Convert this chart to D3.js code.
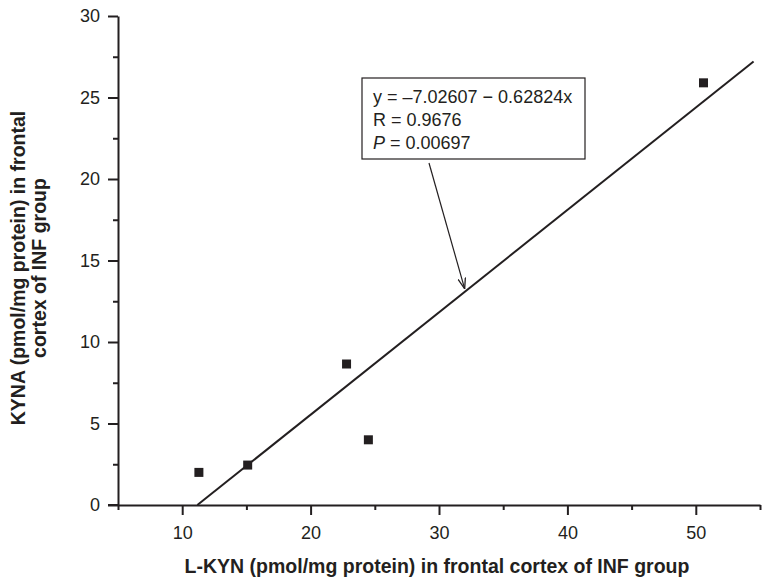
<!DOCTYPE html>
<html>
<head>
<meta charset="utf-8">
<script src="https://cdn.jsdelivr.net/npm/d3@7"></script>
<style>
  body { margin: 0; background: #fff; }
  svg { display: block; font-family: "Liberation Sans", Arial, sans-serif; }
</style>
</head>
<body>
<div id="graph"></div>
<script>
// scatter of KYNA vs L-KYN with a fitted line
var lkyn = [11.3, 15.1, 22.8, 24.5, 50.6];
var kyna = [2.0, 2.45, 8.65, 4.0, 25.9];
var fitIntercept = -7.02607;
var fitSlope = 0.62824;
var fitRange = [11.18, 54.5];
var xTicks = [10, 20, 30, 40, 50];
var xMinor = [5, 15, 25, 35, 45, 55];
var yTicks = [0, 5, 10, 15, 20, 25, 30];
var yMinor = [2.5, 7.5, 12.5, 17.5, 22.5, 27.5];
var noteLines = ["y = \u20137.02607 \u2212 0.62824x", "R = 0.9676", "P = 0.00697"];
var noteAt = 32; // x-value where the arrow touches the line

(function() {
  var graph = {
    width: 771,
    height: 586,
    ink: "#231f20"
  };

  var svg = d3.select("#graph").append("svg")
    .attr("width", graph.width)
    .attr("height", graph.height);

  var xScale = d3.scaleLinear().domain([5, 55]).range([118, 760]);
  var yScale = d3.scaleLinear().domain([0, 30]).range([505, 16]);

  // axes: major ticks with labels, then short unlabelled minor ticks
  var xAxis = svg.append("g")
    .attr("transform", "translate(0," + yScale(0) + ")")
    .call(d3.axisBottom(xScale).tickValues(xTicks).tickSize(10).tickPadding(11).tickSizeOuter(0));
  svg.append("g")
    .attr("transform", "translate(0," + yScale(0) + ")")
    .call(d3.axisBottom(xScale).tickValues(xMinor).tickSize(5).tickFormat("").tickSizeOuter(0))
    .select(".domain").remove();

  var yAxis = svg.append("g")
    .attr("transform", "translate(" + xScale(5) + ",0)")
    .call(d3.axisLeft(yScale).tickValues(yTicks).tickSize(10).tickPadding(8).tickSizeOuter(0));
  svg.append("g")
    .attr("transform", "translate(" + xScale(5) + ",0)")
    .call(d3.axisLeft(yScale).tickValues(yMinor).tickSize(5).tickFormat("").tickSizeOuter(0))
    .select(".domain").remove();

  svg.selectAll(".domain, .tick line")
    .attr("stroke", graph.ink)
    .attr("stroke-width", 2);

  xAxis.selectAll("text").attr("font-size", 18).attr("fill", graph.ink).attr("font-family", "Liberation Sans, Arial");
  yAxis.selectAll("text").attr("font-size", 18).attr("fill", graph.ink).attr("font-family", "Liberation Sans, Arial");

  // x axis line reaches back to the left end of the 0 tick
  svg.append("line")
    .attr("x1", xScale(5) - 10).attr("x2", xScale(5))
    .attr("y1", yScale(0)).attr("y2", yScale(0))
    .attr("stroke", graph.ink).attr("stroke-width", 2);

  // fitted line
  svg.append("line")
    .attr("x1", xScale(fitRange[0]))
    .attr("y1", yScale(fitIntercept + fitSlope * fitRange[0]))
    .attr("x2", xScale(fitRange[1]))
    .attr("y2", yScale(fitIntercept + fitSlope * fitRange[1]))
    .attr("stroke", graph.ink)
    .attr("stroke-width", 2);

  // points
  var pts = lkyn.map(function(v, i) { return { x: v, y: kyna[i] }; });
  var s = 9;
  svg.selectAll("rect.pt")
    .data(pts)
    .enter()
    .append("rect")
    .attr("class", "pt")
    .attr("x", function(d) { return xScale(d.x) - s / 2; })
    .attr("y", function(d) { return yScale(d.y) - s / 2; })
    .attr("width", s)
    .attr("height", s)
    .attr("fill", graph.ink);

  // annotation box
  var box = { x: 362, y: 78, w: 223, h: 81 };
  svg.append("rect")
    .attr("x", box.x).attr("y", box.y)
    .attr("width", box.w).attr("height", box.h)
    .attr("fill", "#fff")
    .attr("stroke", graph.ink)
    .attr("stroke-width", 1.2);

  var note = svg.append("text")
    .attr("font-size", 18)
    .attr("fill", graph.ink);
  noteLines.forEach(function(t, i) {
    var tl = note.append("tspan")
      .attr("x", box.x + 11)
      .attr("y", box.y + 25 + i * 23);
    if (i === 2) {
      tl.append("tspan").attr("font-style", "italic").text("P");
      tl.append("tspan").text(t.slice(1));
    } else {
      tl.text(t);
    }
  });

  // arrow from box to line
  svg.append("defs").append("marker")
    .attr("id", "arr")
    .attr("viewBox", "0 0 10 10")
    .attr("refX", 10).attr("refY", 5)
    .attr("markerWidth", 9).attr("markerHeight", 9)
    .attr("orient", "auto")
    .append("path")
    .attr("d", "M0,1.5 L10,5 L0,8.5")
    .attr("fill", "none")
    .attr("stroke", graph.ink)
    .attr("stroke-width", 1.2);

  svg.append("line")
    .attr("x1", 429).attr("y1", 163)
    .attr("x2", xScale(noteAt)).attr("y2", yScale(fitIntercept + fitSlope * noteAt) - 3)
    .attr("stroke", graph.ink)
    .attr("stroke-width", 1.2)
    .attr("marker-end", "url(#arr)");

  // axis titles
  svg.append("text")
    .attr("x", 437).attr("y", 573)
    .attr("text-anchor", "middle")
    .attr("font-size", 19.5)
    .attr("font-weight", "bold")
    .attr("fill", graph.ink)
    .text("L-KYN (pmol/mg protein) in frontal cortex of INF group");

  var yt = svg.append("text")
    .attr("transform", "translate(25,268) rotate(-90)")
    .attr("text-anchor", "middle")
    .attr("font-size", 19.5)
    .attr("font-weight", "bold")
    .attr("fill", graph.ink);
  yt.append("tspan").attr("x", 0).attr("y", 0).text("KYNA (pmol/mg protein) in frontal");
  yt.append("tspan").attr("x", 0).attr("y", 21).text("cortex of INF group");
})();
</script>
</body>
</html>
